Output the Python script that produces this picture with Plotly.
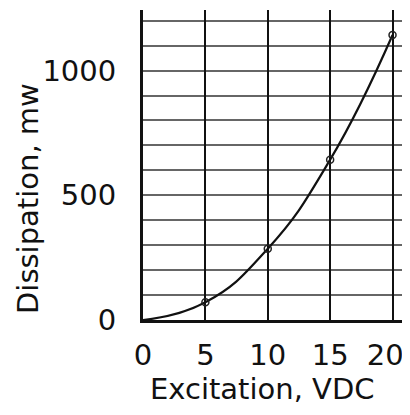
import plotly.graph_objects as go

excitation_vdc = [0, 5, 10, 15, 20]
dissipation_mw = [0, 71, 286, 643, 1143]
marker_x = [5, 10, 15, 20]
marker_y = [71, 286, 643, 1143]
x_ticks = [0, 5, 10, 15, 20]
x_tick_labels = ["0", "5", "10", "15", "20\u2002"]
y_ticks = [0, 500, 1000]

FONT = "DejaVu Sans"
FS = 29
# page body has an 8px margin, so the figure is drawn 8px smaller
W, H = 402, 407
L, T, B, R = 135, 2, 95, 0
PW, PH = W - L - R, H - T - B

fig = go.Figure()
fig.add_trace(go.Scatter(
    x=excitation_vdc, y=dissipation_mw, mode="lines",
    line=dict(color="#111111", width=2.2, shape="spline", smoothing=1.3),
    hoverinfo="skip", showlegend=False))
fig.add_trace(go.Scatter(
    x=marker_x, y=marker_y, mode="markers",
    marker=dict(symbol="circle-open", size=7, color="#222222", line=dict(width=1.5)),
    showlegend=False))

fig.update_layout(
    width=W, height=H,
    margin=dict(l=L, r=R, t=T, b=B, autoexpand=False),
    paper_bgcolor="white", plot_bgcolor="white",
    font=dict(family=FONT, size=FS, color="#111111"),
    xaxis=dict(range=[0, 21.4], tickvals=x_ticks, ticktext=x_tick_labels, ticks="",
               showgrid=True, gridcolor="#111111", gridwidth=2, showline=True,
               linecolor="#111111", linewidth=3, zeroline=False, ticklabelstandoff=7,
               ticklabeloverflow="allow", tickfont=dict(size=FS)),
    yaxis=dict(range=[0, 1243], tickvals=y_ticks, ticks="", showgrid=False,
               showline=True, linecolor="#111111", linewidth=3, zeroline=False,
               ticklabelstandoff=18, ticklabeloverflow="allow", tickfont=dict(size=FS),
               minor=dict(dtick=100, tick0=0, showgrid=True, gridcolor="#666666",
                          gridwidth=1.5)),
    annotations=[
        dict(text="Excitation, VDC", xref="paper", yref="paper",
             x=(254 - L) / PW, y=-(381 - (T + PH)) / PH, xanchor="center", yanchor="middle",
             showarrow=False, font=dict(family=FONT, size=FS, color="#111111")),
        dict(text="Dissipation, mw", xref="paper", yref="paper", textangle=-90,
             x=(20 - L) / PW, y=((T + PH) - 191) / PH, xanchor="center", yanchor="middle",
             showarrow=False, font=dict(family=FONT, size=FS, color="#111111")),
    ],
)
fig.write_html("out.html")
